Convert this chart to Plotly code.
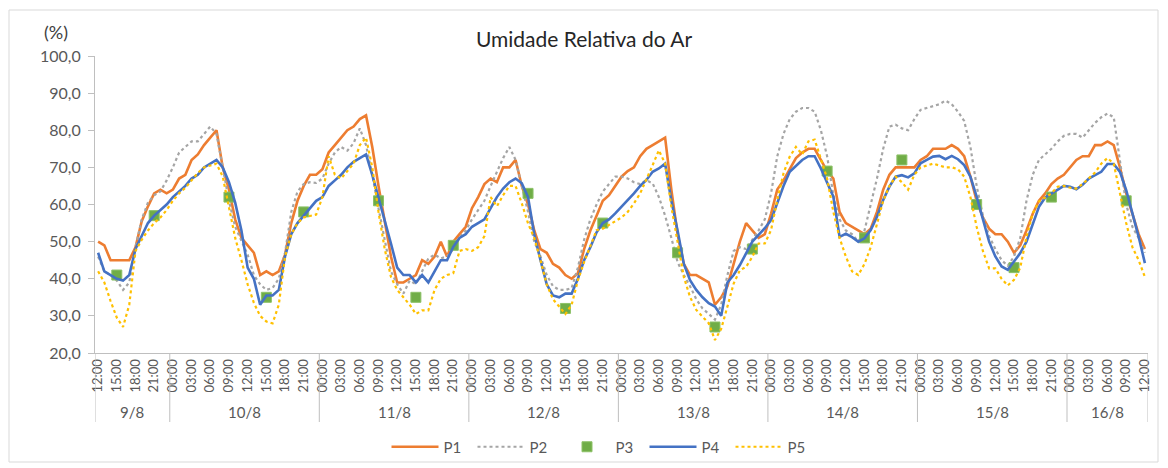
import plotly.graph_objects as go

# hourly, from 9/8 12:00 to 16/8 12:00 (169 points)
p1 = [50, 49, 45, 45, 45, 45, 48.5, 55.5, 59.5, 63, 64, 63, 64, 67, 68, 72, 73.5, 76, 78, 80,
      70, 64, 56, 51, 49, 47, 41, 42, 41, 42, 46.5, 55, 61, 65, 68, 68, 69.5, 74, 76, 78,
      80, 81, 83, 84, 75.5, 65, 55, 46, 39, 39, 40, 41, 45, 44, 46, 50, 46, 50, 52, 54,
      59, 62, 65.5, 67, 66, 70, 70, 72, 65, 60, 53, 48, 47, 44, 43, 41, 40, 41.5, 48, 53,
      57, 61, 62.5, 65, 67.5, 69, 70, 73, 75, 76, 77, 78, 64, 52, 44, 41, 41, 40, 39, 33,
      35, 38, 44, 50, 55, 53, 51, 52, 57.5, 64, 66.5, 69.5, 72.5, 74, 75, 75, 72, 69, 67, 58,
      55, 54, 53, 52, 53.5, 58, 64, 68, 70, 70, 70, 70, 72, 73, 75, 75, 75, 76, 75, 73,
      67.5, 61, 56.5, 53.5, 52, 52, 50, 47, 49, 53, 57.5, 61, 63, 65.5, 67, 68, 70, 72, 73, 73,
      76, 76, 77, 76, 70, 63, 57.5, 52, 48]
p2 = [46, 42, 41, 39.5, 37, 39, 48.5, 56, 60.5, 62.5, 63.5, 66.5, 70, 74, 75.5, 77, 77, 79, 81, 79,
      70, 61, 54, 50, 46.5, 41, 38.5, 37, 37.5, 40, 47, 58, 63.5, 65.5, 66, 65.8, 67, 71, 74, 75.5,
      74.5, 76.5, 80.5, 76, 68, 59, 50, 42, 38.5, 36, 39.5, 38.5, 42, 45.5, 46.5, 45.5, 46, 48, 51, 53,
      56, 58.5, 61, 65, 69, 72.5, 75.5, 72, 65, 58, 50, 46, 41, 38, 37, 37, 37.5, 43, 50.5, 56,
      60, 63.5, 65.5, 67.5, 67.5, 67, 66, 65.5, 66.5, 65.7, 62, 57, 51, 44.5, 41, 38, 34.5, 32, 30.5, 29,
      33, 41, 47.5, 48.5, 48, 50.5, 53, 56, 63, 73, 79, 83, 85, 86, 86, 85, 80, 73, 62.5, 56,
      53, 52, 50, 53, 60, 67, 75, 81, 81.5, 80.5, 80, 83, 85.5, 86, 86.5, 87, 88, 87, 85, 82.5,
      75.5, 65, 57, 51.5, 48, 45, 43.5, 46, 51, 61, 68, 72, 73.5, 75, 77, 78.5, 79, 79, 78, 80,
      82, 83.5, 84.5, 83.5, 71, 60, 54, 51, 47]
p4 = [47, 42, 41, 40, 39.5, 41, 48, 51.5, 55, 57, 58.5, 60, 62, 63.5, 65, 67, 68, 70, 71, 72,
      70, 66, 60.5, 53, 43, 40, 33, 35.5, 35.5, 37, 46, 52, 55, 57, 59, 61, 62, 65, 66.5, 68,
      70, 71.5, 72.5, 73.5, 68, 62, 55.5, 49.5, 43, 41, 41, 39, 41, 39, 42, 45, 45, 48.6, 51, 52,
      54, 55, 56, 59, 62, 64.3, 66, 67, 65.7, 62, 52, 45, 38.5, 35.5, 35, 36, 36, 40, 45, 48.5,
      52.5, 55, 56, 57.6, 59.4, 61, 63, 65, 66.6, 68.8, 69.7, 71, 61, 53, 44, 39.6, 37, 35, 33.4, 32.5,
      30, 39, 41, 43.7, 46.8, 50, 51.8, 53.6, 55.8, 60.3, 65, 68.8, 70.3, 72, 73, 73, 69.7, 65.7, 62.1, 51.3,
      52.1, 51.2, 50, 50.9, 53.1, 56.7, 61.2, 64.8, 67.5, 67.9, 67.3, 68.4, 71.1, 72, 72.9, 73.1, 72.2, 73.1, 72.2, 70.6,
      67.5, 62.1, 55.8, 50, 46, 43.3, 42.4, 44.6, 46.9, 50, 54.9, 59.4, 61.9, 63, 63.9, 65, 64.8, 64.1, 65.3, 67,
      67.9, 68.8, 70.9, 70.9, 68.8, 63.9, 57.6, 51.3, 44.2]
p5 = [42, 39, 34, 29.5, 27, 33, 47.5, 50.5, 53, 55, 56.5, 58.5, 61, 63, 64.5, 66.5, 68.5, 70, 70.5, 71,
      67.5, 59, 51, 45, 38.5, 33.5, 30, 28.5, 28, 33, 46, 52, 55, 56.5, 57, 57.3, 62, 73, 68, 67,
      69, 71, 76, 78, 70, 58, 48, 40.5, 37, 35, 33, 30.5, 31.5, 31.5, 37, 40, 41, 41.5, 47.5, 48,
      47.5, 48.5, 51.5, 62, 59.5, 62.5, 65, 65, 60.3, 54.9, 51, 45, 38.5, 34.5, 32.5, 30.5, 33, 39.6, 44.5, 48.6,
      53.1, 53.5, 54.5, 55.5, 56.5, 58, 60.3, 63, 66.6, 70.6, 74.6, 71, 59.4, 49.5, 40.5, 35.1, 31.6, 29.8, 28, 23.5,
      26.5, 32.5, 38.7, 42.3, 43.2, 45.9, 49.5, 49.5, 53.1, 61.2, 68.4, 72.9, 75.5, 73.5, 77, 77.5, 72, 67, 58, 51,
      46, 42, 41, 44, 48.5, 55, 61, 65, 67.5, 66, 64, 68, 70, 70.5, 71, 70.5, 70, 70, 69.5, 67.5,
      62, 54, 47.5, 42.8, 42.8, 40, 38.2, 39.7, 43, 51.3, 57.6, 60.8, 62, 63, 64.8, 65, 64.5, 64.3, 65.5, 67,
      68.6, 71, 72.5, 71, 62.5, 55, 48.5, 45, 40.5]
# P3: measured at 09:00, 15:00 and 21:00 only
p3_hours = [3, 9, 21, 27, 33, 45, 51, 57, 69, 75, 81, 93, 99, 105, 117, 123, 129, 141, 147, 153, 165]
p3 = [41, 57, 62, 35, 58, 61, 35, 49, 63, 32, 55, 47, 27, 48, 69, 51, 72, 60, 43, 62, 61]

days = ["9/8", "10/8", "11/8", "12/8", "13/8", "14/8", "15/8", "16/8"]
day_start = [0, 12, 36, 60, 84, 108, 132, 156]
hour_labels = ["%02d:00" % ((12 + 3 * i) % 24) for i in range(57)]
y_ticks = [20, 30, 40, 50, 60, 70, 80, 90, 100]

hours = list(range(len(p1)))
FONT = "Lato, 'Open Sans', sans-serif"
TXT = "#595959"

fig = go.Figure()
fig.add_trace(go.Scatter(x=hours, y=p1, name="P1", mode="lines",
                         line=dict(color="#ED7D31", width=2.6)))
fig.add_trace(go.Scatter(x=hours, y=p2, name="P2", mode="lines",
                         line=dict(color="#A5A5A5", width=2.2, dash="dot")))
fig.add_trace(go.Scatter(x=p3_hours, y=p3, name="P3", mode="markers",
                         marker=dict(symbol="square", size=10, color="#70AD47",
                                     line=dict(color="#8CC167", width=1))))
fig.add_trace(go.Scatter(x=hours, y=p4, name="P4", mode="lines",
                         line=dict(color="#4472C4", width=2.6)))
fig.add_trace(go.Scatter(x=hours, y=p5, name="P5", mode="lines",
                         line=dict(color="#FFC000", width=2.2, dash="dot")))

plot_w = 1053.0
plot_h = 297.0
shapes = []
for b in day_start[1:]:
    shapes.append(dict(type="line", xref="x", yref="paper", x0=b - 0.5, x1=b - 0.5,
                       y0=0, y1=-69 / plot_h, line=dict(color="#BFBFBF", width=1)))
for b in (-0.5, len(p1) - 0.5):
    shapes.append(dict(type="line", xref="x", yref="paper", x0=b, x1=b,
                       y0=0, y1=-69 / plot_h, line=dict(color="#BFBFBF", width=1)))
# chart area border
shapes.append(dict(type="rect", xref="paper", yref="paper", layer="below",
                   x0=(9 - 95) / plot_w, x1=(1158 - 95) / plot_w,
                   y0=(353 - 462) / plot_h, y1=(353 - 10) / plot_h,
                   line=dict(color="#D9D9D9", width=1)))

annotations = []
ends = day_start[1:] + [len(p1)]
for d, s, e in zip(days, day_start, ends):
    annotations.append(dict(x=(s + e - 1) / 2, y=-59 / plot_h, xref="x", yref="paper",
                            text=d, showarrow=False, yanchor="middle",
                            font=dict(family=FONT, size=15, color=TXT)))
annotations.append(dict(x=(56 - 95) / plot_w, y=(353 - 32) / plot_h, xref="paper", yref="paper",
                        text="(%)", showarrow=False, xanchor="center", yanchor="middle",
                        font=dict(family=FONT, size=18, color="#404040")))

fig.update_layout(
    width=1168, height=468,
    margin=dict(l=95, r=20, t=56, b=115, autoexpand=False),
    paper_bgcolor="white", plot_bgcolor="white",
    separators=",.",
    title=dict(text="Umidade Relativa do Ar", x=0.5, xanchor="center", y=1 - 40 / 468,
               yanchor="middle", font=dict(family=FONT, size=21, color="#262626")),
    showlegend=True,
    legend=dict(orientation="h", x=0.5 - 20 / plot_w, xanchor="center", y=(353 - 447) / plot_h,
                yanchor="middle", font=dict(family=FONT, size=15, color=TXT),
                bgcolor="rgba(0,0,0,0)",
                itemwidth=47, entrywidth=24, entrywidthmode="pixels", tracegroupgap=0),
    shapes=shapes, annotations=annotations,
    xaxis=dict(range=[-0.5, len(p1) - 0.5], tickmode="array",
               tickvals=list(range(0, len(p1), 3)), ticktext=hour_labels,
               tickangle=-90, tickfont=dict(family=FONT, size=13, color=TXT),
               showgrid=False, zeroline=False, showline=True, linecolor="#BFBFBF",
               ticks="", automargin=False),
    yaxis=dict(range=[20, 100], tickmode="array", tickvals=y_ticks, tickformat=".1f",
               tickfont=dict(family=FONT, size=16, color=TXT),
               showgrid=False, zeroline=False, showline=True, linecolor="#BFBFBF",
               ticks="outside", ticklen=6, tickcolor="#BFBFBF", automargin=False,
               ticklabelstandoff=4),
)

fig.write_html("out.html", config={"displayModeBar": False},
               post_script="document.body.style.margin='0';")
